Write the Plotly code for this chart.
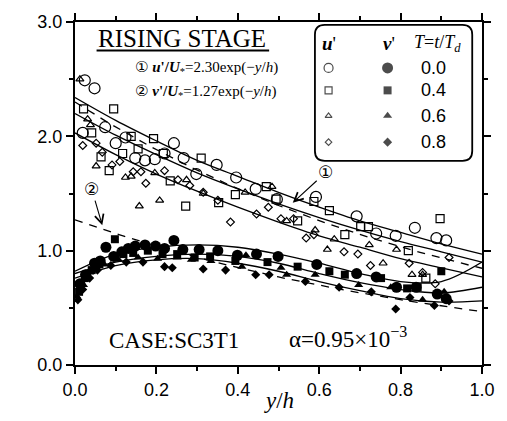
import numpy as np
import plotly.graph_objects as go

# ---- measured turbulence intensities, rising stage ----
# u' (streamwise), one list pair per T = t/Td
u_T00_x = [0.024, 0.048, 0.019, 0.074, 0.10, 0.124, 0.148, 0.172, 0.196, 0.22, 0.243, 0.267,
           0.298, 0.348, 0.396, 0.444, 0.496, 0.592, 0.692, 0.74, 0.788, 0.835, 0.888, 0.912]
u_T00_y = [2.49, 2.42, 2.03, 2.08, 1.94, 1.99, 1.81, 1.79, 1.80, 1.85, 1.94, 1.81,
           1.67, 1.75, 1.64, 1.54, 1.45, 1.47, 1.30, 1.15, 1.13, 1.20, 1.11, 1.09]

u_T04_x = [0.021, 0.041, 0.064, 0.084, 0.095, 0.117, 0.138, 0.155, 0.193, 0.217, 0.234, 0.272,
           0.31, 0.353, 0.394, 0.47, 0.494, 0.547, 0.587, 0.625, 0.663, 0.702, 0.721, 0.819,
           0.862, 0.897]
u_T04_y = [2.24, 2.03, 1.82, 1.70, 2.24, 1.85, 2.00, 1.89, 1.98, 1.85, 1.61, 1.39,
           1.81, 1.42, 1.49, 1.56, 1.45, 1.26, 1.43, 1.35, 1.14, 1.21, 1.21, 1.00,
           0.76, 1.28]

u_T06_x = [0.012, 0.031, 0.038, 0.052, 0.124, 0.138, 0.158, 0.196, 0.208, 0.274, 0.315, 0.418,
           0.484, 0.52, 0.59, 0.637, 0.62, 0.723, 0.757, 0.79, 0.828, 0.854]
u_T06_y = [2.50, 2.15, 2.10, 1.74, 1.64, 1.65, 1.39, 1.68, 1.44, 1.62, 1.50, 1.51,
           1.56, 1.26, 1.18, 1.10, 1.01, 1.05, 0.89, 1.01, 0.79, 0.79]

u_T08_x = [0.019, 0.052, 0.067, 0.091, 0.11, 0.143, 0.162, 0.174, 0.22, 0.253, 0.282, 0.315,
           0.351, 0.382, 0.446, 0.475, 0.506, 0.537, 0.568, 0.587, 0.661, 0.695, 0.726, 0.821,
           0.854, 0.885, 0.919]
u_T08_y = [1.92, 1.94, 1.86, 1.75, 1.78, 1.69, 1.69, 1.59, 1.70, 1.62, 1.57, 1.51,
           1.44, 1.25, 1.32, 1.38, 1.28, 1.28, 1.11, 1.14, 0.99, 0.97, 0.87, 0.89,
           0.81, 0.71, 0.94]

# v' (vertical)
v_T00_x = [0.012, 0.026, 0.048, 0.062, 0.076, 0.095, 0.115, 0.131, 0.148, 0.172, 0.198, 0.22,
           0.243, 0.265, 0.305, 0.351, 0.399, 0.446, 0.499, 0.594, 0.692, 0.74, 0.79, 0.838,
           0.89, 0.912]
v_T00_y = [0.71, 0.79, 0.89, 0.91, 1.03, 0.95, 0.99, 1.02, 1.04, 1.05, 1.04, 1.02,
           1.09, 1.01, 1.01, 1.00, 0.96, 0.97, 0.95, 0.88, 0.80, 0.77, 0.68, 0.68,
           0.62, 0.58]

v_T04_x = [0.01, 0.024, 0.041, 0.06, 0.098, 0.119, 0.143, 0.179, 0.215, 0.251, 0.294, 0.332,
           0.394, 0.473, 0.547, 0.625, 0.663, 0.752, 0.816, 0.842, 0.9]
v_T04_y = [0.64, 0.76, 0.83, 0.88, 1.10, 0.97, 0.98, 1.00, 0.97, 0.97, 0.94, 0.95,
           0.91, 0.90, 0.86, 0.82, 0.79, 0.76, 0.67, 0.68, 0.82]

v_T06_x = [0.005, 0.021, 0.036, 0.072, 0.107, 0.155, 0.203, 0.251, 0.286, 0.334, 0.41, 0.42,
           0.506, 0.52, 0.59, 0.697, 0.776, 0.854, 0.907]
v_T06_y = [0.60, 0.70, 0.81, 0.88, 0.92, 0.94, 0.93, 0.94, 0.92, 0.91, 0.86, 0.96,
           0.85, 0.79, 0.79, 0.70, 0.68, 0.57, 0.64]

v_T08_x = [0.007, 0.019, 0.036, 0.055, 0.088, 0.126, 0.167, 0.22, 0.239, 0.315, 0.37, 0.444,
           0.477, 0.566, 0.649, 0.728, 0.788, 0.823, 0.883, 0.919]
v_T08_y = [0.57, 0.66, 0.76, 0.83, 0.87, 0.90, 0.90, 0.86, 0.85, 0.84, 0.83, 0.79,
           0.79, 0.73, 0.68, 0.64, 0.49, 0.59, 0.52, 0.56]

# fitted curves (solid), sampled at y/h = 0, 0.1, ..., 1.0
fit_x = [0.0, 0.1, 0.2, 0.3, 0.4, 0.5, 0.6, 0.7, 0.8, 0.9, 1.0]
u_fit_upper = [2.34, 2.14, 1.96, 1.79, 1.65, 1.51, 1.38, 1.26, 1.16, 1.06, 0.97]
u_fit_middle = [2.20, 2.01, 1.84, 1.68, 1.54, 1.41, 1.29, 1.18, 1.08, 0.99, 0.90]
u_fit_lower = [2.03, 1.84, 1.67, 1.52, 1.38, 1.25, 1.13, 1.03, 0.93, 0.85, 0.77]
v_fit_upper = [0.82, 0.97, 1.03, 1.05, 1.03, 0.97, 0.89, 0.80, 0.73, 0.73, 0.90]
v_fit_middle = [0.80, 0.90, 0.95, 0.97, 0.95, 0.89, 0.80, 0.72, 0.66, 0.63, 0.68]
v_fit_lower = [0.76, 0.87, 0.92, 0.93, 0.89, 0.82, 0.73, 0.65, 0.58, 0.55, 0.56]

# universal laws (dashed): u'/U* = 2.30 exp(-y/h), v'/U* = 1.27 exp(-y/h)
law_coef_u = 2.30
law_coef_v = 1.27

T_labels = ["0.0", "0.4", "0.6", "0.8"]

SERIF = "Liberation Serif, Times New Roman, serif"
SANS = "Liberation Sans, Arial, sans-serif"
CIRC = "<span style='font-family:DejaVu Sans'>{}</span>"

open_symbols = ["circle-open", "square-open", "triangle-up-open", "diamond-open"]
filled_symbols = ["circle", "square", "triangle-up", "diamond"]
open_sizes = [11, 8, 7, 6]
filled_sizes = [11, 8, 8, 7]

fig = go.Figure()

# fitted and law curves
for curve in (u_fit_upper, u_fit_middle, u_fit_lower, v_fit_upper, v_fit_middle, v_fit_lower):
    fig.add_trace(go.Scatter(x=fit_x, y=curve, mode="lines", line_shape="spline",
                             line=dict(color="black", width=1.3), showlegend=False,
                             hoverinfo="skip"))

law_x = np.linspace(0, 1, 101)
for coef in (law_coef_u, law_coef_v):
    fig.add_trace(go.Scatter(x=law_x, y=coef * np.exp(-law_x), mode="lines",
                             line=dict(color="black", width=1.3, dash="8px,7px"),
                             showlegend=False, hoverinfo="skip"))

u_sets = [(u_T00_x, u_T00_y), (u_T04_x, u_T04_y), (u_T06_x, u_T06_y), (u_T08_x, u_T08_y)]
v_sets = [(v_T00_x, v_T00_y), (v_T04_x, v_T04_y), (v_T06_x, v_T06_y), (v_T08_x, v_T08_y)]

for i, (xs, ys) in enumerate(u_sets):
    fig.add_trace(go.Scatter(x=xs, y=ys, mode="markers", showlegend=False,
                             marker=dict(symbol=open_symbols[i], size=open_sizes[i],
                                         color="black", line=dict(width=1.2, color="black"))))
for i, (xs, ys) in enumerate(v_sets):
    fig.add_trace(go.Scatter(x=xs, y=ys, mode="markers", showlegend=False,
                             marker=dict(symbol=filled_symbols[i], size=filled_sizes[i],
                                         color="black", line=dict(width=0))))

# ---- key box (top right) ----
key_col_u, key_col_v, key_col_T = 0.623, 0.768, 0.881
key_rows = [2.598, 2.402, 2.179, 1.949]
key_open_sizes = [9, 7, 6, 5]
key_filled_sizes = [11, 8, 8, 7]
fig.add_trace(go.Scatter(x=[key_col_u] * 4, y=key_rows, mode="markers", showlegend=False,
                         hoverinfo="skip",
                         marker=dict(symbol=open_symbols, size=key_open_sizes, color="black",
                                     line=dict(width=1.2, color="black"))))
fig.add_trace(go.Scatter(x=[key_col_v] * 4, y=key_rows, mode="markers", showlegend=False,
                         hoverinfo="skip",
                         marker=dict(symbol=filled_symbols, size=key_filled_sizes, color="black",
                                     line=dict(width=0))))

x0, x1, y0, y1 = 0.5895, 0.976, 1.786, 2.974
rx, ry = 0.024, 0.085
box_path = (f"M{x0+rx},{y1} L{x1-rx},{y1} Q{x1},{y1} {x1},{y1-ry} "
            f"L{x1},{y0+ry} Q{x1},{y0} {x1-rx},{y0} L{x0+rx},{y0} "
            f"Q{x0},{y0} {x0},{y0+ry} L{x0},{y1-ry} Q{x0},{y1} {x0+rx},{y1} Z")

annotations = []
for lbl, yy in zip(T_labels, key_rows):
    annotations.append(dict(x=key_col_T, y=yy, text=lbl, showarrow=False,
                            font=dict(family=SANS, size=18, color="black")))
annotations += [
    dict(x=0.625, y=2.812, text="<b><i>u</i></b>'", showarrow=False,
         font=dict(family=SERIF, size=19, color="black")),
    dict(x=0.771, y=2.812, text="<b><i>v</i></b>'", showarrow=False,
         font=dict(family=SERIF, size=19, color="black")),
    dict(x=0.890, y=2.812, text="<i>T</i>=<i>t</i>/<i>T<sub>d</sub></i>", showarrow=False,
         font=dict(family=SERIF, size=18, color="black")),
    # heading and laws
    dict(x=0.263, y=2.855, text="RISING STAGE", showarrow=False,
         font=dict(family=SERIF, size=25, color="black")),
    dict(x=0.143, y=2.598, xanchor="left",
         text=CIRC.format("\u2460") + " <b><i>u</i>'/<i>U</i></b><sub>*</sub>=2.30exp(\u2212<i>y</i>/<i>h</i>)",
         showarrow=False, font=dict(family=SERIF, size=15, color="black")),
    dict(x=0.143, y=2.393, xanchor="left",
         text=CIRC.format("\u2461") + " <b><i>v</i>'/<i>U</i></b><sub>*</sub>=1.27exp(\u2212<i>y</i>/<i>h</i>)",
         showarrow=False, font=dict(family=SERIF, size=15, color="black")),
    # pointers to the law curves
    dict(x=0.535, y=1.419, ax=0.616, ay=1.684, axref="x", ayref="y",
         text=CIRC.format("\u2460"), showarrow=True, arrowhead=5, arrowsize=1.6,
         arrowwidth=1.1, arrowcolor="black",
         font=dict(family=SERIF, size=17, color="black")),
    dict(x=0.067, y=1.222, ax=0.041, ay=1.538, axref="x", ayref="y",
         text=CIRC.format("\u2461"), showarrow=True, arrowhead=5, arrowsize=1.6,
         arrowwidth=1.1, arrowcolor="black",
         font=dict(family=SERIF, size=17, color="black")),
    # case info
    dict(x=0.079, y=0.214, xanchor="left", text="CASE:SC3T1", showarrow=False,
         font=dict(family=SERIF, size=23, color="black")),
    dict(x=0.52, y=0.24, xanchor="left", text="\u03b1=0.95\u00d710<sup>\u22123</sup>",
         showarrow=False, font=dict(family=SERIF, size=23, color="black")),
    # axis titles
    dict(x=-0.165, y=1.5, xref="x", yref="y", textangle=-90,
         text="<i>u</i>' / <i>U</i><sub>*</sub>, <i>v</i>' / <i>U</i><sub>*</sub>",
         showarrow=False, font=dict(family=SERIF, size=23, color="black")),
    dict(x=0.5, y=-0.06, xref="paper", yref="paper", yanchor="top",
         text="<i>y</i>/<i>h</i>", showarrow=False,
         font=dict(family=SERIF, size=23, color="black")),
]

shapes = [
    dict(type="path", path=box_path, xref="x", yref="y",
         line=dict(color="black", width=1.8)),
    dict(type="line", xref="x", yref="y", x0=0.053, x1=0.477, y0=2.75, y1=2.75,
         line=dict(color="black", width=2)),
]

axis_common = dict(showline=True, linecolor="black", linewidth=2, mirror="ticks",
                   ticks="outside", ticklen=7, tickwidth=1.5, tickcolor="black",
                   showgrid=False, zeroline=False,
                   tickfont=dict(family=SANS, size=18, color="black"))

fig.update_layout(
    width=507, height=421,
    margin=dict(l=75, r=13, t=14, b=56),
    paper_bgcolor="white", plot_bgcolor="white",
    showlegend=False,
    xaxis=dict(range=[0, 1], tickvals=[0, 0.2, 0.4, 0.6, 0.8, 1.0],
               ticktext=["0.0", "0.2", "0.4", "0.6", "0.8", "1.0"],
               minor=dict(tickvals=[0.1, 0.3, 0.5, 0.7, 0.9], ticks="outside", ticklen=4,
                          tickcolor="black"),
               **axis_common),
    yaxis=dict(range=[0, 3], tickvals=[0, 1, 2, 3], ticktext=["0.0", "1.0", "2.0", "3.0"],
               minor=dict(tickvals=[0.5, 1.5, 2.5], ticks="outside", ticklen=4,
                          tickcolor="black"),
               **axis_common),
    annotations=annotations,
    shapes=shapes,
)

fig.write_html("out.html")
